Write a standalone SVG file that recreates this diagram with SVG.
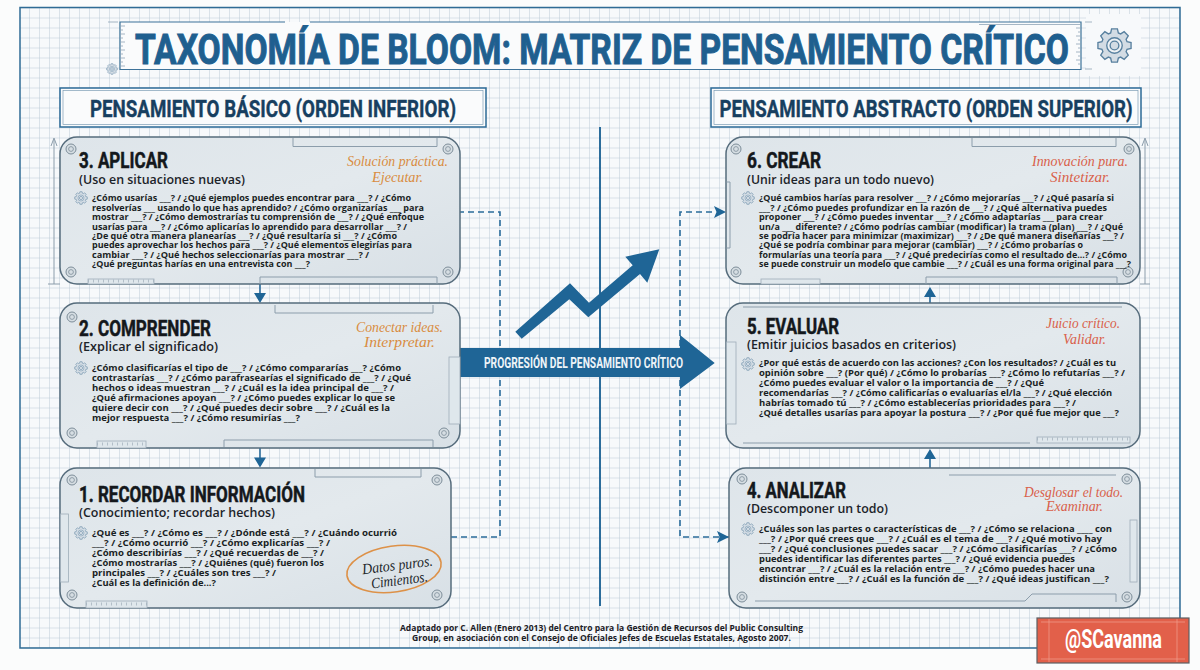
<svg xmlns="http://www.w3.org/2000/svg" width="1200" height="670" viewBox="0 0 1200 670">
<style>
text{font-family:"Open Sans","Liberation Sans",sans-serif}
.n{font-family:"Liberation Sans Narrow","Roboto","Liberation Sans",sans-serif;font-weight:700}
.title{font-size:43px;fill:#1f5f8f;stroke:#1f5f8f;stroke-width:1}
.sh{font-size:24px;fill:#173f60;stroke:#173f60;stroke-width:.4}
.h{font-size:22px;fill:#14181c;stroke:#14181c;stroke-width:.5}
.s{font-size:12px;font-weight:600;fill:#1c2329}
.b{font-size:9.2px;font-weight:700;fill:#1a1f24}
.hw{font-family:"Liberation Serif",serif;font-style:italic;font-size:15px}
.o{fill:#d98c3f}.r{fill:#d95f4a}.k{fill:#23272b}
.card{fill:url(#cg);stroke:#566c7c;stroke-width:1.5}
.orn{fill:none;stroke:#8c9dab;stroke-width:1}
.rul{fill:#dfe7ec;stroke:#9eadb9;stroke-width:.8}
.tick{fill:none;stroke:#9eadb9;stroke-width:3;stroke-dasharray:.7 4.3}
.scr{fill:#d6dee3;stroke:#7d8d99;stroke-width:1}
.scr2{fill:none;stroke:#7d8d99;stroke-width:.8}
.f{font-size:8.6px;font-weight:700;fill:#1c2025}
.con{fill:none;stroke:#2b6c9b;stroke-width:1.6}
.d{stroke-dasharray:6 4}
.head{fill:#1f6596}
</style>
<defs>
<pattern id="grid" width="10" height="10" patternUnits="userSpaceOnUse" y="7.5">
<path d="M10 0V10M0 0H10" fill="none" stroke="#bccad7" stroke-width="1"/>
</pattern>
<linearGradient id="cg" x1="0" y1="0" x2="1" y2="1"><stop offset="0" stop-color="#dee5ea"/><stop offset=".5" stop-color="#e3e9ed"/><stop offset="1" stop-color="#d8e0e6"/></linearGradient>
<symbol id="gear" viewBox="-110 -110 220 220" overflow="visible">
<path fill="#d3dce4" stroke="#58809f" stroke-width="8" d="M74.6-22.8 98.5-17.4 98.5 17.4 74.6 22.8 68.9 36.6 81.9 57.4 57.4 81.9 36.6 68.9 22.8 74.6 17.4 98.5-17.4 98.5-22.8 74.6-36.6 68.9-57.4 81.9-81.9 57.4-68.9 36.6-74.6 22.8-98.5 17.4-98.5-17.4-74.6-22.8-68.9-36.6-81.9-57.4-57.4-81.9-36.6-68.9-22.8-74.6-17.4-98.5 17.4-98.5 22.8-74.6 36.6-68.9 57.4-81.9 81.9-57.4 68.9-36.6Z"/>
<circle r="46" fill="#eef2f5" stroke="#58809f" stroke-width="8"/>
<circle r="26" fill="#d3dce4" stroke="#58809f" stroke-width="8"/>
</symbol>
<symbol id="screw" viewBox="-6 -6 12 12"><circle r="5" class="scr"/><circle r="2.4" class="scr2"/></symbol>
</defs>

<g id="background">
<rect width="1200" height="670" fill="#fbfcfc"/>
<rect x="20" y="7.5" width="1160" height="640.5" fill="#f7f9fb"/>
<rect x="20" y="7.5" width="1160" height="640.5" fill="url(#grid)"/>
<rect x="1086" y="14" width="55" height="62" fill="#f7f9fb"/>
<rect x="20" y="7.5" width="1160" height="640.5" fill="none" stroke="#2f6b95" stroke-width="1.5"/>
</g>

<g id="title">
<rect x="120" y="22" width="961" height="47.5" fill="#fafbfc"/>
<path d="M285 22H120V69.5H1081V22H310" fill="none" stroke="#3d7299" stroke-width="1.2"/>
<path d="M108 22H118M120 26h5M120 30h3M120 34h5M120 38h3M120 42h5M120 46h3M120 50h5M120 54h3M120 58h5M120 62h3M120 66h5M1085 22h7M1085 69h7M979 24.5H1081M1076 28h5M1078 32h3M1076 36h5M1078 40h3M1076 44h5M1078 48h3M1076 52h5M1078 56h3M1076 60h5M1078 64h3" fill="none" stroke="#8fa5b6" stroke-width=".8"/>
<use href="#gear" x="106" y="63" width="12" height="12"/>
<text class="n title" x="135" y="63.5" textLength="934" lengthAdjust="spacingAndGlyphs">TAXONOMÍA DE BLOOM: MATRIZ DE PENSAMIENTO CRÍTICO</text>
<use href="#gear" x="1096" y="27" width="37" height="37"/>
</g>

<g id="header-left">
<rect x="60" y="88" width="426" height="39" fill="#fafbfc" stroke="#2b6a96" stroke-width="1.5"/>
<rect x="63" y="90.5" width="420" height="34" fill="none" stroke="#7c9db6" stroke-width=".7"/>
<text class="n sh" x="90" y="116.5" textLength="366" lengthAdjust="spacingAndGlyphs">PENSAMIENTO BÁSICO (ORDEN INFERIOR)</text>
</g>
<g id="header-right">
<rect x="711" y="88" width="430" height="39" fill="#fafbfc" stroke="#2b6a96" stroke-width="1.5"/>
<rect x="714" y="90.5" width="424" height="34" fill="none" stroke="#7c9db6" stroke-width=".7"/>
<text class="n sh" x="719.5" y="116.5" textLength="413" lengthAdjust="spacingAndGlyphs">PENSAMIENTO ABSTRACTO (ORDEN SUPERIOR)</text>
</g>

<g id="connectors">
<path class="con" d="M600 127V606" style="stroke-width:2"/>
<path class="con d" d="M451 537H500V212H460"/>
<path class="con d" d="M729 537H680V212H716"/>
<path class="head" d="M714 206 726 212 714 218 716.5 212ZM717 531 729 537 717 543 719.5 537Z"/>
<path class="con" d="M260 284V296M260 448V460M930 468V456M930 303V292"/>
<path class="head" d="M254 293H266L260 303ZM254 457.5H266L260 467.5ZM924 459H936L930 449ZM924 297H936L930 287Z"/>
<path class="head" d="M515.3 331.7 521.7 338.7 569.3 299.3 588.3 317.3 640 274 647.3 282.7 659.3 249.3 625.3 256.7 632.7 265.3 589 302.7 570 283.3Z"/>
</g>

<g id="progress-arrow">
<path class="head" d="M460 348H680V335L714.7 363 680 389V377H460Z"/>
<text class="n" x="484" y="368" font-size="14" fill="#eef4f8" textLength="199" lengthAdjust="spacingAndGlyphs">PROGRESIÓN DEL PENSAMIENTO CRÍTICO</text>
</g>

<g id="card-3">
<path class="orn" d="M54 284V140M51 146 54 138 57 146M48 284H60"/>
<rect class="card" x="60" y="137" width="400" height="147" rx="17"/>
<path class="orn" d="M293 138V146.5H437V138M260 284V277H437V284"/>
<rect class="rul" x="88" y="279" width="66" height="5"/>
<path class="tick" d="M88 281H154"/>
<use href="#screw" x="65" y="143" width="12" height="12"/><use href="#screw" x="442" y="143" width="12" height="12"/><use href="#screw" x="65" y="266" width="12" height="12"/><use href="#screw" x="442" y="266" width="12" height="12"/>
<use href="#gear" x="74" y="191" width="14" height="14"/>
<text class="n h" x="79" y="167.5" textLength="89" lengthAdjust="spacingAndGlyphs">3. APLICAR</text>
<text class="s" x="79" y="183.5" textLength="166" lengthAdjust="spacingAndGlyphs">(Uso en situaciones nuevas)</text>
<text class="hw o" x="347" y="166" textLength="101" lengthAdjust="spacingAndGlyphs">Solución práctica.</text>
<text class="hw o" x="372" y="182" textLength="51" lengthAdjust="spacingAndGlyphs">Ejecutar.</text>
<text class="b" x="92" y="201.3" textLength="319" lengthAdjust="spacingAndGlyphs">¿Cómo usarías ___? / ¿Qué ejemplos puedes encontrar para ___? / ¿Cómo</text>
<text class="b" x="92" y="210.7" textLength="332" lengthAdjust="spacingAndGlyphs">resolverías ___ usando lo que has aprendido? / ¿Cómo organizarías ___ para</text>
<text class="b" x="92" y="220.1" textLength="332" lengthAdjust="spacingAndGlyphs">mostrar ___? / ¿Cómo demostrarías tu comprensión de ___? / ¿Qué enfoque</text>
<text class="b" x="92" y="229.5" textLength="315" lengthAdjust="spacingAndGlyphs">usarías para ___? / ¿Cómo aplicarías lo aprendido para desarrollar ___? /</text>
<text class="b" x="92" y="238.9" textLength="305" lengthAdjust="spacingAndGlyphs">¿De qué otra manera planearías ___? / ¿Qué resultaría si ___? / ¿Cómo</text>
<text class="b" x="92" y="248.3" textLength="320" lengthAdjust="spacingAndGlyphs">puedes aprovechar los hechos para ___? / ¿Qué elementos elegirías para</text>
<text class="b" x="92" y="257.7" textLength="277" lengthAdjust="spacingAndGlyphs">cambiar ___? / ¿Qué hechos seleccionarías para mostrar ___? /</text>
<text class="b" x="92" y="267.1" textLength="218" lengthAdjust="spacingAndGlyphs">¿Qué preguntas harías en una entrevista con ___?</text>
</g>

<g id="card-2">
<rect class="card" x="60" y="303" width="400" height="145" rx="17"/>
<path class="orn" d="M275 305V313H433V305M224 447V440H433V447"/>
<rect class="rul" x="97" y="441" width="49" height="7"/>
<path class="tick" d="M97 444H146"/>
<rect class="rul" x="449" y="357" width="11" height="67"/>
<use href="#screw" x="66" y="311" width="12" height="12"/><use href="#screw" x="66" y="427" width="12" height="12"/><use href="#screw" x="438" y="427" width="12" height="12"/>
<use href="#gear" x="74" y="361" width="14" height="14"/>
<text class="n h" x="79" y="336" textLength="132" lengthAdjust="spacingAndGlyphs">2. COMPRENDER</text>
<text class="s" x="79" y="351" textLength="139" lengthAdjust="spacingAndGlyphs">(Explicar el significado)</text>
<text class="hw o" x="356" y="332" textLength="87" lengthAdjust="spacingAndGlyphs">Conectar ideas.</text>
<text class="hw o" x="364" y="347" textLength="71" lengthAdjust="spacingAndGlyphs">Interpretar.</text>
<text class="b" x="92" y="371" textLength="309" lengthAdjust="spacingAndGlyphs">¿Cómo clasificarías el tipo de ___? / ¿Cómo compararías ___? ¿Cómo</text>
<text class="b" x="92" y="381" textLength="319" lengthAdjust="spacingAndGlyphs">contrastarías ___? / ¿Cómo parafrasearías el significado de ___? / ¿Qué</text>
<text class="b" x="92" y="391" textLength="302" lengthAdjust="spacingAndGlyphs">hechos o ideas muestran ___? / ¿Cuál es la idea principal de ___? /</text>
<text class="b" x="92" y="401" textLength="303" lengthAdjust="spacingAndGlyphs">¿Qué afirmaciones apoyan ___? / ¿Cómo puedes explicar lo que se</text>
<text class="b" x="92" y="411" textLength="298" lengthAdjust="spacingAndGlyphs">quiere decir con ___? / ¿Qué puedes decir sobre ___? / ¿Cuál es la</text>
<text class="b" x="92" y="421" textLength="208" lengthAdjust="spacingAndGlyphs">mejor respuesta ___? / ¿Cómo resumirías ___?</text>
</g>

<g id="card-1">
<rect class="card" x="60" y="468" width="391" height="140" rx="17"/>
<path class="orn" d="M315 469V477H421V469"/>
<rect class="rul" x="60.5" y="514" width="8" height="68"/>
<rect class="rul" x="86" y="601" width="61" height="7"/>
<path class="tick" d="M86 604H147"/>
<use href="#screw" x="66" y="474" width="12" height="12"/><use href="#screw" x="431" y="474" width="12" height="12"/><use href="#screw" x="66" y="589" width="12" height="12"/><use href="#screw" x="431" y="589" width="12" height="12"/>
<use href="#gear" x="74" y="526" width="14" height="14"/>
<text class="n h" x="79" y="501.7" textLength="226" lengthAdjust="spacingAndGlyphs">1. RECORDAR INFORMACIÓN</text>
<text class="s" x="79" y="516.7" textLength="196" lengthAdjust="spacingAndGlyphs">(Conocimiento; recordar hechos)</text>
<text class="b" x="92" y="536" textLength="305" lengthAdjust="spacingAndGlyphs">¿Qué es ___? / ¿Cómo es ___? / ¿Dónde está ___? / ¿Cuándo ocurrió</text>
<text class="b" x="92" y="546" textLength="238" lengthAdjust="spacingAndGlyphs">___? / ¿Cómo ocurrió ___? / ¿Cómo explicarías ___? /</text>
<text class="b" x="92" y="556" textLength="232" lengthAdjust="spacingAndGlyphs">¿Cómo describirías ___? / ¿Qué recuerdas de ___? /</text>
<text class="b" x="92" y="566" textLength="232" lengthAdjust="spacingAndGlyphs">¿Cómo mostrarías ___? / ¿Quiénes (qué) fueron los</text>
<text class="b" x="92" y="576" textLength="184" lengthAdjust="spacingAndGlyphs">principales ___? / ¿Cuáles son tres ___? /</text>
<text class="b" x="92" y="586" textLength="124" lengthAdjust="spacingAndGlyphs">¿Cuál es la definición de...?</text>
<ellipse cx="394" cy="569" rx="47.5" ry="23" transform="rotate(-8 394 569)" fill="none" stroke="#dd9148" stroke-width="1.6"/>
<text class="hw k" x="362" y="570" textLength="71" lengthAdjust="spacingAndGlyphs" transform="rotate(-7 397 566)">Datos puros.</text>
<text class="hw k" x="371" y="585" textLength="57" lengthAdjust="spacingAndGlyphs" transform="rotate(-7 399 581)">Cimientos.</text>
</g>

<g id="card-6">
<path class="orn" d="M1145 284V140M1142 146 1145 138 1148 146M1140 284H1150"/>
<rect class="card" x="726" y="137" width="414" height="147" rx="17"/>
<path class="orn" d="M972 138V146.5H1116V138M926 284V277H1117V284M726.5 182H730V248H726.5"/>
<rect class="rul" x="761" y="279" width="59" height="5"/>
<use href="#screw" x="730" y="143" width="12" height="12"/><use href="#screw" x="1123" y="143" width="12" height="12"/><use href="#screw" x="730" y="266" width="12" height="12"/><use href="#screw" x="1122" y="266" width="12" height="12"/>
<use href="#gear" x="741" y="191" width="14" height="14"/>
<text class="n h" x="747" y="167.5" textLength="74" lengthAdjust="spacingAndGlyphs">6. CREAR</text>
<text class="s" x="747" y="183.5" textLength="187" lengthAdjust="spacingAndGlyphs">(Unir ideas para un todo nuevo)</text>
<text class="hw r" x="1032" y="166" textLength="96" lengthAdjust="spacingAndGlyphs">Innovación pura.</text>
<text class="hw r" x="1050" y="182" textLength="60" lengthAdjust="spacingAndGlyphs">Sintetizar.</text>
<text class="b" x="759" y="201.3" textLength="355" lengthAdjust="spacingAndGlyphs">¿Qué cambios harías para resolver ___? / ¿Cómo mejorarías ___? / ¿Qué pasaría si</text>
<text class="b" x="759" y="210.7" textLength="348" lengthAdjust="spacingAndGlyphs">___? / ¿Cómo puedes profundizar en la razón de ___? / ¿Qué alternativa puedes</text>
<text class="b" x="759" y="220.1" textLength="344" lengthAdjust="spacingAndGlyphs">proponer ___? / ¿Cómo puedes inventar ___? / ¿Cómo adaptarías ___ para crear</text>
<text class="b" x="759" y="229.5" textLength="364" lengthAdjust="spacingAndGlyphs">un/a ___ diferente? / ¿Cómo podrías cambiar (modificar) la trama (plan) ___? / ¿Qué</text>
<text class="b" x="759" y="238.9" textLength="365" lengthAdjust="spacingAndGlyphs">se podría hacer para minimizar (maximizar) ___? / ¿De qué manera diseñarías ___? /</text>
<text class="b" x="759" y="248.3" textLength="324" lengthAdjust="spacingAndGlyphs">¿Qué se podría combinar para mejorar (cambiar) ___? / ¿Cómo probarías o</text>
<text class="b" x="759" y="257.7" textLength="368" lengthAdjust="spacingAndGlyphs">formularías una teoría para ___? / ¿Qué predecirías como el resultado de...? / ¿Cómo</text>
<text class="b" x="759" y="267.1" textLength="372" lengthAdjust="spacingAndGlyphs">se puede construir un modelo que cambie ___? / ¿Cuál es una forma original para ___?</text>
</g>

<g id="card-5">
<rect class="card" x="726" y="303" width="414" height="145" rx="17"/>
<path class="orn" d="M743 307H1122M743 443H1030"/>
<rect class="rul" x="1037" y="437" width="93" height="6"/>
<path class="tick" d="M1037 439H1130"/>
<rect class="rul" x="726.5" y="342" width="9.5" height="82"/>
<use href="#gear" x="741" y="357" width="14" height="14"/>
<text class="n h" x="747" y="334" textLength="92" lengthAdjust="spacingAndGlyphs">5. EVALUAR</text>
<text class="s" x="747" y="349" textLength="209" lengthAdjust="spacingAndGlyphs">(Emitir juicios basados en criterios)</text>
<text class="hw r" x="1046" y="328" textLength="74" lengthAdjust="spacingAndGlyphs">Juicio crítico.</text>
<text class="hw r" x="1063" y="344" textLength="43" lengthAdjust="spacingAndGlyphs">Validar.</text>
<text class="b" x="759" y="366.3" textLength="357" lengthAdjust="spacingAndGlyphs">¿Por qué estás de acuerdo con las acciones? ¿Con los resultados? / ¿Cuál es tu</text>
<text class="b" x="759" y="376.3" textLength="366" lengthAdjust="spacingAndGlyphs">opinión sobre ___? (Por qué) / ¿Cómo lo probarías ___? ¿Cómo lo refutarías ___? /</text>
<text class="b" x="759" y="386.3" textLength="285" lengthAdjust="spacingAndGlyphs">¿Cómo puedes evaluar el valor o la importancia de ___? / ¿Qué</text>
<text class="b" x="759" y="396.3" textLength="353" lengthAdjust="spacingAndGlyphs">recomendarías ___? / ¿Cómo calificarías o evaluarías el/la ___? / ¿Qué elección</text>
<text class="b" x="759" y="406.3" textLength="317" lengthAdjust="spacingAndGlyphs">habrías tomado tú ___? / ¿Cómo establecerías prioridades para ___? /</text>
<text class="b" x="759" y="416.3" textLength="360" lengthAdjust="spacingAndGlyphs">¿Qué detalles usarías para apoyar la postura ___? / ¿Por qué fue mejor que ___?</text>
</g>

<g id="card-4">
<rect class="card" x="729" y="468" width="411" height="140" rx="17"/>
<path class="orn" d="M949 475H1116M755 601H1025L1032 594H1116V602"/>
<rect class="rul" x="1130" y="520" width="7" height="62"/>
<use href="#screw" x="736" y="473" width="12" height="12"/><use href="#screw" x="1121" y="473" width="12" height="12"/><use href="#screw" x="736" y="591" width="12" height="12"/><use href="#screw" x="1121" y="591" width="12" height="12"/>
<use href="#gear" x="741" y="522" width="14" height="14"/>
<text class="n h" x="747" y="498" textLength="99" lengthAdjust="spacingAndGlyphs">4. ANALIZAR</text>
<text class="s" x="747" y="513" textLength="141" lengthAdjust="spacingAndGlyphs">(Descomponer un todo)</text>
<text class="hw r" x="1024" y="497" textLength="99" lengthAdjust="spacingAndGlyphs">Desglosar el todo.</text>
<text class="hw r" x="1046" y="511" textLength="57" lengthAdjust="spacingAndGlyphs">Examinar.</text>
<text class="b" x="759" y="532" textLength="353" lengthAdjust="spacingAndGlyphs">¿Cuáles son las partes o características de ___? / ¿Cómo se relaciona ____ con</text>
<text class="b" x="759" y="542" textLength="343" lengthAdjust="spacingAndGlyphs">___? / ¿Por qué crees que ___? / ¿Cuál es el tema de ___? / ¿Qué motivo hay</text>
<text class="b" x="759" y="552" textLength="358" lengthAdjust="spacingAndGlyphs">___? / ¿Qué conclusiones puedes sacar ___? / ¿Cómo clasificarías ___? / ¿Cómo</text>
<text class="b" x="759" y="562" textLength="316" lengthAdjust="spacingAndGlyphs">puedes identificar las diferentes partes ___? / ¿Qué evidencia puedes</text>
<text class="b" x="759" y="572" textLength="336" lengthAdjust="spacingAndGlyphs">encontrar ___? / ¿Cuál es la relación entre ___? / ¿Cómo puedes hacer una</text>
<text class="b" x="759" y="582.3" textLength="350" lengthAdjust="spacingAndGlyphs">distinción entre ___? / ¿Cuál es la función de ___? / ¿Qué ideas justifican ___?</text>
</g>

<g id="footer">
<text class="f" x="400" y="631" textLength="403" lengthAdjust="spacingAndGlyphs">Adaptado por C. Allen (Enero 2013) del Centro para la Gestión de Recursos del Public Consulting</text>
<text class="f" x="412" y="641" textLength="379" lengthAdjust="spacingAndGlyphs">Group, en asociación con el Consejo de Oficiales Jefes de Escuelas Estatales, Agosto 2007.</text>
</g>

<g id="badge">
<rect x="1037" y="618" width="152" height="45" fill="#e2604a" stroke="#5c5f63" stroke-width="1.2"/>
<path d="M1041 622H1185M1041 659H1185M1049 619V662M1177 619V662" fill="none" stroke="#f0a08f" stroke-width=".7"/>
<text class="n" x="1065" y="648" font-size="25" fill="#fff" textLength="97" lengthAdjust="spacingAndGlyphs">@SCavanna</text>
</g>
</svg>
